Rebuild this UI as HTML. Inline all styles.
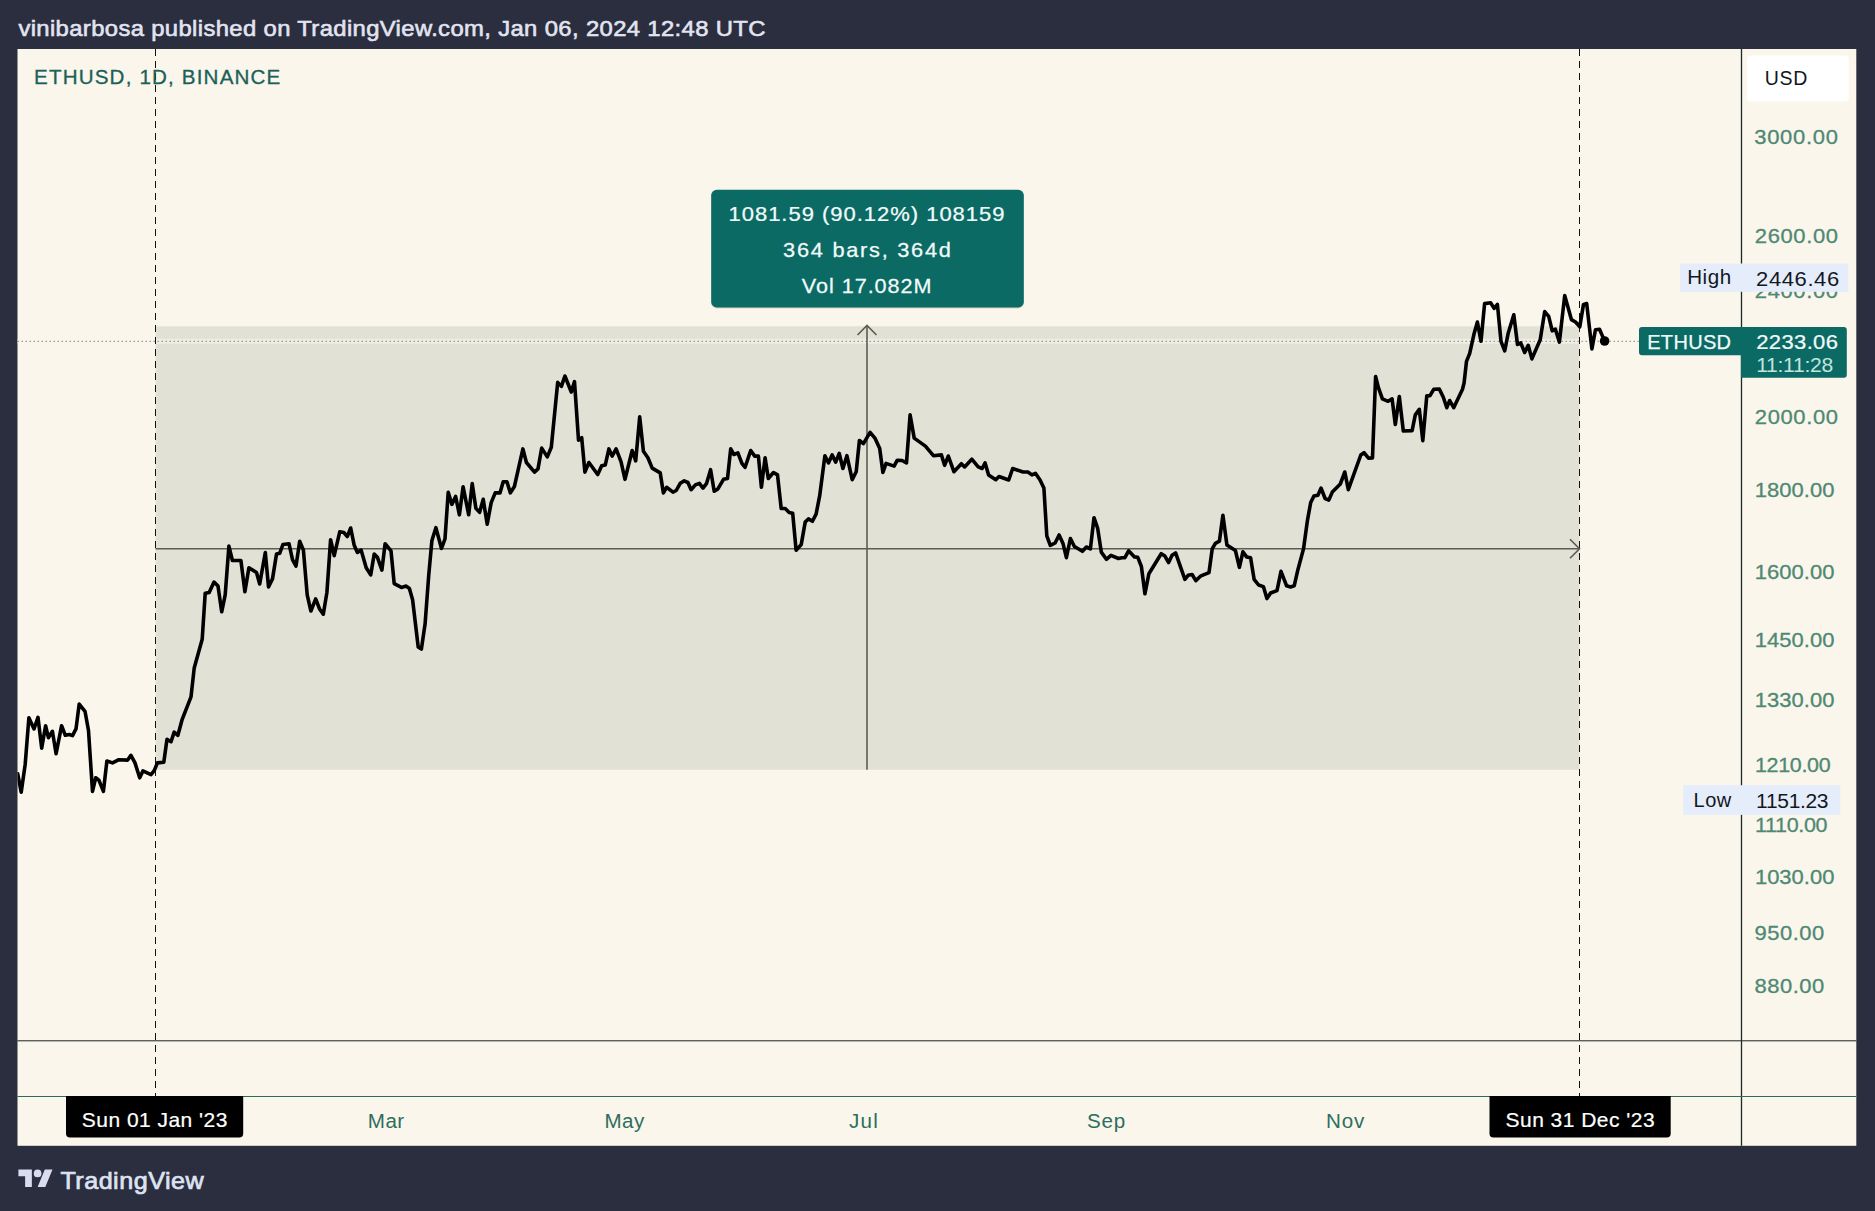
<!DOCTYPE html>
<html><head><meta charset="utf-8"><title>ETHUSD chart</title>
<style>
html,body{margin:0;padding:0;background:#2a2e3e;}
body{width:1875px;height:1211px;overflow:hidden;font-family:"Liberation Sans",sans-serif;}
svg{display:block;}
text{font-family:"Liberation Sans",sans-serif;white-space:pre;}
</style></head><body>
<svg width="1875" height="1211" viewBox="0 0 1875 1211">
<defs><clipPath id="cp"><rect x="17.5" y="49" width="1724.0" height="991.8"/></clipPath></defs>
<rect x="0" y="0" width="1875" height="1211" fill="#2a2e3e"/>
<text transform="translate(18.40,35.80) scale(1.0600,1)" font-size="22.5" letter-spacing="0.340" fill="#e2e4f1" stroke="#e2e4f1" stroke-width="0.6">vinibarbosa published on TradingView.com, Jan 06, 2024 12:48 UTC</text>
<rect x="17.5" y="49" width="1838.8" height="1096.8" fill="#faf6ec"/>
<rect x="155.5" y="326.3" width="1424" height="443.5" fill="#e1e1d6"/>
<line x1="17.5" y1="341.3" x2="1741.5" y2="341.3" stroke="#faf6ec" stroke-opacity="0.6" stroke-width="5"/>
<line x1="17.5" y1="341.3" x2="1741.5" y2="341.3" stroke="#85887f" stroke-width="1" stroke-dasharray="1.5 2.5"/>
<line x1="155.5" y1="49" x2="155.5" y2="1096" stroke="#111" stroke-width="1" stroke-dasharray="7 5"/>
<line x1="1579.5" y1="49" x2="1579.5" y2="1096" stroke="#111" stroke-width="1" stroke-dasharray="7 5"/>
<g stroke="#5c5c52" stroke-width="1.6" fill="none"><line x1="155.5" y1="548.7" x2="1579.5" y2="548.7"/><polyline points="1570,539.2 1579.5,548.7 1570,558.2"/><line x1="867" y1="769.8" x2="867" y2="325.5"/><polyline points="857.5,335 867,325.5 876.5,335"/></g>
<g clip-path="url(#cp)"><polyline points="17.7,773.8 21.2,792.2 25.2,764.2 28.9,717.7 34.0,728.9 38.0,717.4 41.7,748.1 45.6,725.7 48.4,737.7 52.4,731.3 56.1,753.7 61.6,725.7 65.3,735.3 69.3,734.5 72.5,735.6 76.0,728.9 79.2,704.1 85.0,711.3 88.5,730.5 92.5,791.4 95.7,777.8 98.9,780.2 103.4,791.4 106.9,761.0 112.5,762.9 118.9,759.7 127.7,760.1 130.9,755.3 134.9,762.6 139.7,777.8 142.9,770.9 151.0,774.6 154.2,770.6 157.4,762.9 163.8,762.2 167.0,739.3 171.0,741.7 174.2,732.1 177.9,735.3 182.2,719.3 191.0,696.9 194.2,668.1 202.2,639.2 205.2,593.3 209.2,592.5 214.0,582.1 218.0,586.1 221.7,611.8 225.2,594.9 228.9,546.1 232.4,560.5 240.9,560.5 244.9,591.7 248.9,567.7 256.5,572.5 259.7,584.0 265.3,552.5 268.5,586.9 272.5,578.9 276.5,554.1 279.7,553.3 282.9,544.5 289.0,543.7 292.5,559.7 296.0,566.1 299.7,541.3 303.4,550.1 307.2,594.9 310.9,611.0 315.7,598.9 319.7,609.3 323.3,614.2 326.9,592.5 330.6,539.7 334.2,555.7 339.8,531.7 343.8,532.5 347.3,536.5 350.7,528.0 354.2,545.3 357.4,552.5 361.1,550.1 366.2,567.7 370.7,574.9 374.2,554.1 377.4,557.3 381.9,570.1 385.1,543.7 391.0,550.9 394.2,583.7 401.4,587.4 406.2,586.1 409.4,588.5 412.6,599.7 418.2,647.0 421.4,649.1 425.1,623.8 428.7,575.7 431.9,540.5 435.9,527.7 441.5,548.5 445.0,538.9 448.2,492.4 451.9,504.4 455.6,496.4 459.4,514.8 463.1,486.8 468.7,514.8 472.2,483.6 475.9,508.4 479.6,512.4 483.1,499.6 483.2,499.3 487.2,524.2 491.2,502.6 495.2,492.9 500.0,492.9 503.2,481.7 506.9,481.7 510.4,492.9 514.4,486.5 522.9,448.9 526.4,462.5 534.5,472.1 538.0,468.9 541.7,448.1 547.3,456.9 551.3,447.3 557.7,382.4 561.4,386.4 564.9,376.0 571.3,392.0 574.5,381.6 578.5,440.1 581.7,437.7 584.9,472.1 588.9,462.5 597.7,474.5 601.7,465.7 605.3,464.9 608.9,448.9 612.1,456.1 616.1,448.9 621.0,461.7 625.0,479.3 632.2,450.5 635.7,460.9 639.7,416.9 643.4,451.3 647.9,457.7 652.2,468.1 660.2,472.9 663.4,492.9 666.6,487.3 673.0,492.1 676.2,490.5 680.2,483.3 684.2,480.9 687.9,482.5 691.1,489.7 695.4,484.9 699.4,483.3 703.0,488.1 706.6,483.3 710.6,469.7 714.2,491.3 717.9,488.9 723.5,479.3 727.5,478.5 730.7,448.9 733.9,454.5 737.9,452.9 741.9,463.3 745.1,467.3 750.7,450.5 754.7,456.1 758.4,456.1 761.4,487.3 765.1,457.7 768.3,478.5 773.5,472.5 777.5,474.9 781.2,508.5 785.2,508.5 789.2,512.5 792.7,513.3 796.1,550.2 801.2,544.6 805.2,522.1 808.4,518.9 812.4,521.3 816.1,514.1 819.7,495.7 824.9,455.7 828.5,462.9 832.1,454.9 835.7,462.1 839.2,453.3 842.9,468.5 846.9,455.7 852.2,479.7 856.2,471.7 859.4,440.5 863.4,443.7 870.1,432.4 874.9,438.1 879.7,448.5 882.9,472.5 886.1,463.4 894.1,466.1 897.3,460.2 902.1,460.5 906.5,462.9 910.1,414.8 914.2,438.1 925.4,446.1 933.4,455.7 941.4,454.9 944.6,465.3 948.3,456.0 953.9,471.7 961.4,463.7 964.6,466.9 971.8,459.2 978.2,466.9 982.2,468.5 985.1,462.9 988.6,474.9 995.8,479.7 999.0,476.5 1008.7,480.0 1012.7,468.5 1023.1,472.0 1027.9,472.0 1031.9,474.9 1035.4,473.3 1039.9,479.7 1043.9,488.0 1046.8,535.8 1050.3,545.4 1055.1,543.0 1059.1,535.0 1063.1,543.8 1066.4,557.7 1070.4,538.5 1074.4,546.5 1082.4,551.3 1086.4,547.0 1090.4,548.9 1094.0,517.7 1097.6,528.1 1101.3,552.1 1106.4,559.3 1110.9,555.3 1118.5,558.5 1121.7,557.7 1124.9,557.7 1128.6,550.8 1134.5,556.9 1137.7,557.2 1141.4,566.5 1144.9,593.8 1148.9,573.7 1161.2,553.7 1164.9,556.1 1168.6,562.5 1172.1,555.3 1175.6,552.9 1184.9,579.3 1188.1,575.3 1192.1,574.5 1195.8,580.6 1201.0,575.8 1209.0,572.6 1212.2,548.9 1215.4,543.3 1219.4,541.2 1222.9,515.3 1226.9,544.9 1235.4,550.5 1239.4,567.3 1242.9,551.8 1246.6,556.9 1250.6,557.7 1254.1,579.3 1258.6,585.0 1263.4,586.6 1266.9,598.6 1270.6,593.0 1277.0,590.6 1281.0,571.3 1286.6,585.8 1290.6,587.0 1294.2,585.8 1297.9,569.7 1303.5,548.9 1307.5,520.1 1310.7,502.5 1313.9,496.1 1317.9,495.3 1321.1,488.1 1325.1,498.5 1328.8,500.1 1332.3,492.1 1340.3,484.0 1344.8,472.0 1348.3,489.7 1360.8,455.0 1364.0,452.6 1368.5,458.2 1372.5,457.9 1375.6,376.5 1378.4,387.7 1382.4,398.9 1388.1,401.3 1392.1,398.9 1395.3,424.5 1399.3,396.5 1403.3,431.0 1412.1,430.6 1415.3,414.9 1419.3,409.3 1422.8,440.6 1426.8,395.7 1430.0,395.7 1433.7,389.3 1439.3,389.0 1443.3,397.3 1446.8,407.7 1449.7,400.5 1453.7,407.7 1462.5,389.3 1464.1,382.9 1466.5,361.3 1469.7,353.3 1474.2,333.2 1477.4,322.0 1481.0,341.3 1484.6,303.6 1490.6,302.8 1494.1,308.4 1497.4,304.4 1501.0,341.3 1504.7,350.9 1508.2,333.2 1513.8,314.8 1517.5,344.5 1520.7,342.9 1524.7,352.5 1528.2,345.3 1531.9,358.9 1540.2,339.7 1544.7,311.6 1548.7,316.4 1552.2,330.8 1555.4,329.2 1559.4,342.1 1564.7,295.6 1571.4,319.6 1575.5,322.0 1579.8,326.8 1583.5,304.4 1586.7,303.6 1591.9,348.9 1595.5,329.7 1599.5,329.2 1604.6,340.9" fill="none" stroke="#000" stroke-width="3.6" stroke-linejoin="round" stroke-linecap="round"/><circle cx="1604.6" cy="341" r="4.8" fill="#000"/></g>
<line x1="1741.5" y1="49" x2="1741.5" y2="1145.8" stroke="#1c2924" stroke-width="1.3"/>
<line x1="17.5" y1="1040.8" x2="1856.3" y2="1040.8" stroke="#1a2421" stroke-width="1"/>
<line x1="17.5" y1="1096.5" x2="1856.3" y2="1096.5" stroke="#2f6b5c" stroke-width="1.2"/>
<text transform="translate(34.00,84.30) scale(1.0300,1)" font-size="20" letter-spacing="1.128" fill="#1a6158" stroke="#1a6158" stroke-width="0.3">ETHUSD, 1D, BINANCE</text>
<rect x="711.2" y="190.6" width="312.6" height="117.8" rx="5.5" fill="#8d8f86" opacity="0.35"/>
<rect x="711.2" y="189.8" width="312.6" height="117.6" rx="5.5" fill="#0c6a65"/>
<text transform="translate(728.50,221.00) scale(1.1000,1)" font-size="20" letter-spacing="0.895" fill="#f1fbfa" stroke="#f1fbfa" stroke-width="0.25">1081.59 (90.12%) 108159</text>
<text transform="translate(783.10,256.80) scale(1.0900,1)" font-size="20" letter-spacing="1.584" fill="#f1fbfa" stroke="#f1fbfa" stroke-width="0.25">364 bars, 364d</text>
<text transform="translate(801.80,292.80) scale(1.0800,1)" font-size="20" letter-spacing="0.899" fill="#f1fbfa" stroke="#f1fbfa" stroke-width="0.25">Vol 17.082M</text>
<rect x="1747" y="55.6" width="101.8" height="45.8" rx="4" fill="#ffffff"/>
<text transform="translate(1764.70,84.70) scale(1.0000,1)" font-size="19.5" letter-spacing="0.718" fill="#131722">USD</text>
<text transform="translate(1754.20,143.52) scale(1.1000,1)" font-size="20" letter-spacing="0.647" fill="#4f8873" stroke="#4f8873" stroke-width="0.3">3000.00</text>
<text transform="translate(1754.80,242.61) scale(1.1000,1)" font-size="20" letter-spacing="0.556" fill="#4f8873" stroke="#4f8873" stroke-width="0.3">2600.00</text>
<text transform="translate(1754.80,298.04) scale(1.1000,1)" font-size="20" letter-spacing="0.556" fill="#4f8873" stroke="#4f8873" stroke-width="0.3">2400.00</text>
<text transform="translate(1754.80,424.30) scale(1.1000,1)" font-size="20" letter-spacing="0.556" fill="#4f8873" stroke="#4f8873" stroke-width="0.3">2000.00</text>
<text transform="translate(1754.70,497.26) scale(1.1000,1)" font-size="20" letter-spacing="0.026" fill="#4f8873" stroke="#4f8873" stroke-width="0.3">1800.00</text>
<text transform="translate(1754.70,578.83) scale(1.1000,1)" font-size="20" letter-spacing="0.026" fill="#4f8873" stroke="#4f8873" stroke-width="0.3">1600.00</text>
<text transform="translate(1754.70,647.00) scale(1.1000,1)" font-size="20" letter-spacing="0.026" fill="#4f8873" stroke="#4f8873" stroke-width="0.3">1450.00</text>
<text transform="translate(1754.70,706.82) scale(1.1000,1)" font-size="20" letter-spacing="0.026" fill="#4f8873" stroke="#4f8873" stroke-width="0.3">1330.00</text>
<text transform="translate(1754.90,772.30) scale(1.0752,1)" font-size="20" letter-spacing="-0.300" fill="#4f8873" stroke="#4f8873" stroke-width="0.3">1210.00</text>
<text transform="translate(1755.00,832.04) scale(1.0738,1)" font-size="20" letter-spacing="-0.300" fill="#4f8873" stroke="#4f8873" stroke-width="0.3">1110.00</text>
<text transform="translate(1754.90,883.83) scale(1.1000,1)" font-size="20" letter-spacing="-0.005" fill="#4f8873" stroke="#4f8873" stroke-width="0.3">1030.00</text>
<text transform="translate(1754.50,939.83) scale(1.1000,1)" font-size="20" letter-spacing="0.455" fill="#4f8873" stroke="#4f8873" stroke-width="0.3">950.00</text>
<text transform="translate(1754.50,992.83) scale(1.1000,1)" font-size="20" letter-spacing="0.455" fill="#4f8873" stroke="#4f8873" stroke-width="0.3">880.00</text>
<rect x="1680.1" y="263.5" width="168.4" height="28.3" fill="#e5edfb"/>
<text transform="translate(1687.20,283.80) scale(1.0300,1)" font-size="20" letter-spacing="0.526" fill="#131722">High</text>
<text transform="translate(1756.10,285.50) scale(1.1000,1)" font-size="20" letter-spacing="0.541" fill="#131722">2446.46</text>
<rect x="1683.2" y="785.2" width="157" height="29.7" fill="#e5edfb"/>
<text transform="translate(1693.60,807.00) scale(1.0000,1)" font-size="20" letter-spacing="0.480" fill="#131722">Low</text>
<text transform="translate(1756.10,807.70) scale(1.0504,1)" font-size="20" letter-spacing="-0.300" fill="#131722">1151.23</text>
<path d="M1642,327 H1843.8 a3,3 0 0 1 3,3 V374.7 a3,3 0 0 1 -3,3 H1740.9 V355.2 H1642 a3,3 0 0 1 -3,-3 V330 a3,3 0 0 1 3,-3 z" fill="#0c6a65"/>
<text transform="translate(1647.20,348.90) scale(1.0000,1)" font-size="20" letter-spacing="0.316" fill="#f1fbfa" stroke="#f1fbfa" stroke-width="0.25">ETHUSD</text>
<text transform="translate(1756.20,348.90) scale(1.1000,1)" font-size="20" letter-spacing="0.344" fill="#f1fbfa" stroke="#f1fbfa" stroke-width="0.25">2233.06</text>
<text transform="translate(1756.20,372.00) scale(1.0580,1)" font-size="20" letter-spacing="-0.300" fill="#c4e3df">11:11:28</text>
<text transform="translate(367.80,1127.60) scale(1.0300,1)" font-size="20" letter-spacing="0.450" fill="#2e6e5e">Mar</text>
<text transform="translate(604.60,1127.60) scale(1.0300,1)" font-size="20" letter-spacing="0.333" fill="#2e6e5e">May</text>
<text transform="translate(849.00,1127.60) scale(1.0300,1)" font-size="20" letter-spacing="1.201" fill="#2e6e5e">Jul</text>
<text transform="translate(1087.00,1127.60) scale(1.0300,1)" font-size="20" letter-spacing="0.754" fill="#2e6e5e">Sep</text>
<text transform="translate(1326.00,1127.60) scale(1.0300,1)" font-size="20" letter-spacing="0.812" fill="#2e6e5e">Nov</text>
<path d="M66,1096 H243.2 V1133.5 a4,4 0 0 1 -4,4 H70 a4,4 0 0 1 -4,-4 z" fill="#000"/>
<text transform="translate(81.80,1126.50) scale(1.0500,1)" font-size="20" letter-spacing="0.450" fill="#fff" stroke="#fff" stroke-width="0.2">Sun 01 Jan '23</text>
<path d="M1489.5,1096 H1670.7 V1133.5 a4,4 0 0 1 -4,4 H1493.5 a4,4 0 0 1 -4,-4 z" fill="#000"/>
<text transform="translate(1505.50,1126.50) scale(1.0500,1)" font-size="20" letter-spacing="0.451" fill="#fff" stroke="#fff" stroke-width="0.2">Sun 31 Dec '23</text>
<g transform="translate(18.4,1165.75) scale(0.961)" fill="#d9dcee"><path d="M14 22H7V11H0V4h14v18zM28 22h-8l7.5-18h8L28 22z"/><circle cx="20" cy="8" r="4"/></g>
<text transform="translate(60.40,1188.60) scale(1.0800,1)" font-size="23.3" letter-spacing="0.449" fill="#dfe2f3" stroke="#dfe2f3" stroke-width="0.7">TradingView</text>
</svg></body></html>
